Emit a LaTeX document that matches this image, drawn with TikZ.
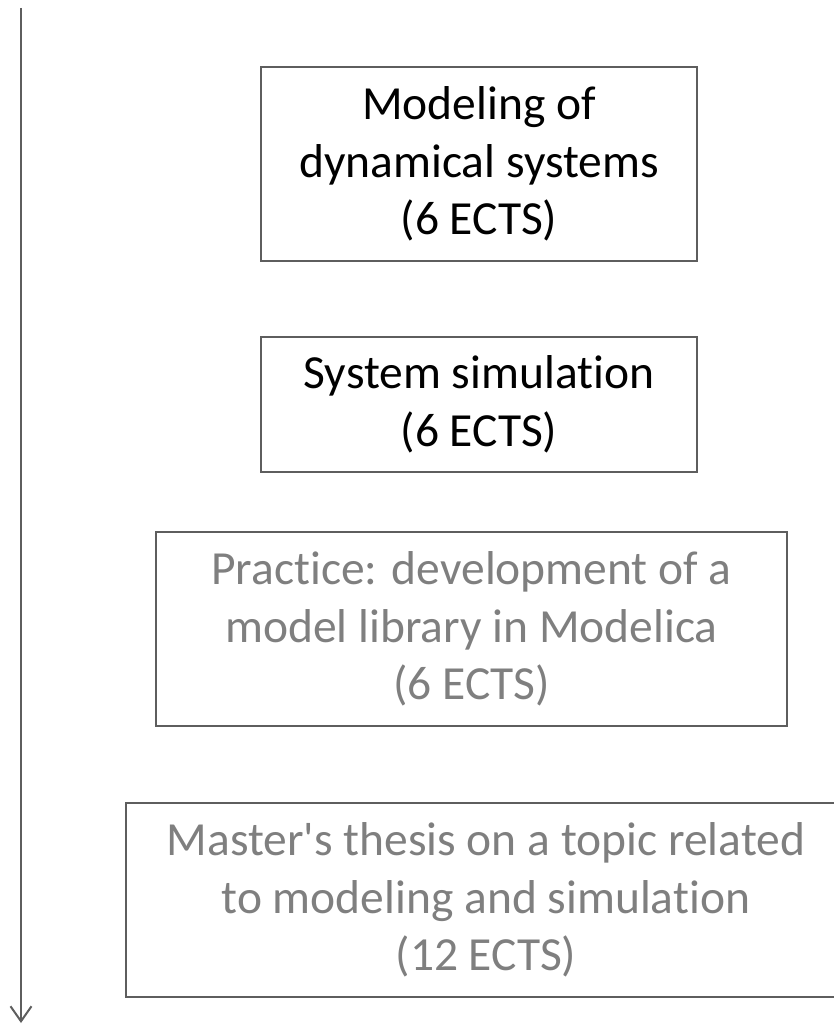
\documentclass[tikz,border=0pt]{standalone}
\usepackage{fontspec}
\setmainfont{Carlito}[Ligatures={TeXOff,CommonOff}]
\usetikzlibrary{arrows.meta}
\definecolor{framegray}{HTML}{5E5E5E}
\definecolor{fadedtext}{HTML}{7F7F7F}
\tikzset{
  course/.style={draw=framegray, line width=2.4pt, inner sep=0pt, align=center,
    font=\fontsize{47.5}{57.5}\selectfont, text=black},
  later/.style={course, text=fadedtext},
  timeline/.style={draw=framegray, line width=2.2pt,
    -{Straight Barb[length=15pt,width=21pt,line width=2pt]}}
}
\begin{document}
\begin{tikzpicture}[x=1pt,y=-1pt]
  \useasboundingbox (0,0) rectangle (834,1025);
  \clip (0,0) rectangle (834,1025);
  % time axis on the left
  \coordinate (tstart) at (21,8);
  \coordinate (tend) at (21,1023);
  \draw[timeline] (tstart) -- (tend);
  % course blocks
  \node[course, minimum width=436pt, minimum height=194pt] (model) at (479,164)
    {Modeling of\\dynamical systems\\(6 ECTS)};
  \node[course, minimum width=436pt, minimum height=135pt] (sim) at (479,404.5)
    {System simulation\\(6 ECTS)};
  \node[later, minimum width=631pt, minimum height=194pt] (practice) at (471.5,629)
    {Practice: development of a\\model library in Modelica\\(6 ECTS)};
  \node[later, minimum width=720pt, minimum height=194pt] (thesis) at (486,900)
    {Master's thesis on a topic related\\to modeling and simulation\\(12 ECTS)};
\end{tikzpicture}
\end{document}
